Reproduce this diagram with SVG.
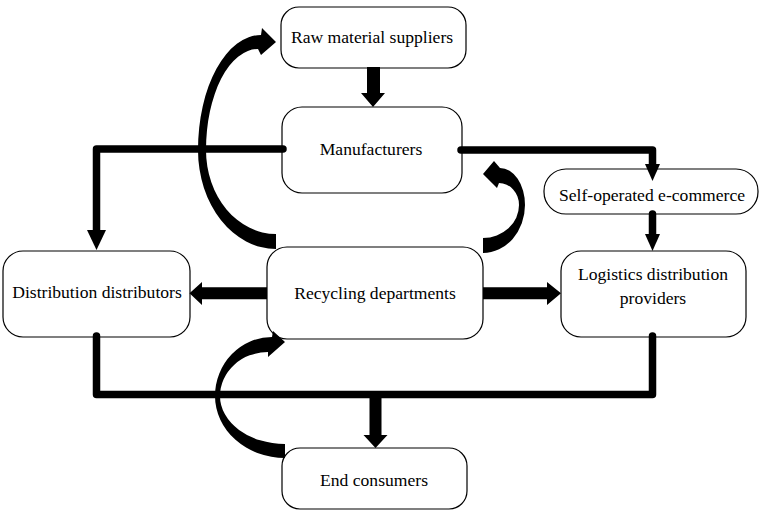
<svg xmlns="http://www.w3.org/2000/svg" width="766" height="516" viewBox="0 0 766 516">
<style>
.box{fill:#fff;stroke:#000;stroke-width:1.2}
.lbl{font-family:"Liberation Serif","Times New Roman",serif;font-size:17.6px;fill:#000;text-anchor:middle}
.ln{fill:none;stroke:#000;stroke-width:7.5;stroke-linecap:round;stroke-linejoin:round}
.ar{fill:#000;stroke:none}
</style>
<rect width="766" height="516" fill="#fff"/>
<g id="raw-material-suppliers">
<rect class="box" x="281" y="7" width="185" height="61" rx="18"/>
<text class="lbl" x="372" y="43">Raw material suppliers</text>
</g>
<g id="manufacturers">
<rect class="box" x="282" y="107" width="180" height="86" rx="20"/>
<text class="lbl" x="371" y="155">Manufacturers</text>
</g>
<g id="self-operated-ecommerce">
<rect class="box" x="544" y="169" width="214" height="45" rx="22"/>
<text class="lbl" x="652" y="201">Self-operated e-commerce</text>
</g>
<g id="distribution-distributors">
<rect class="box" x="3" y="251" width="187" height="86" rx="20"/>
<text class="lbl" x="97" y="298">Distribution distributors</text>
</g>
<g id="recycling-departments">
<rect class="box" x="267" y="247" width="216" height="92" rx="20"/>
<text class="lbl" x="375" y="299">Recycling departments</text>
</g>
<g id="logistics-distribution-providers">
<rect class="box" x="561" y="251" width="185" height="86" rx="20"/>
<text class="lbl" x="653" y="280">Logistics distribution</text>
<text class="lbl" x="653" y="304">providers</text>
</g>
<g id="end-consumers">
<rect class="box" x="282" y="448" width="185" height="61" rx="18"/>
<text class="lbl" x="374" y="486">End consumers</text>
</g>
<g id="connectors">
<path class="ar" d="M367 67 H380 V93 H385 L373 107 L361 93 H367 Z"/>
<path class="ln" d="M283 149 H96.5 V232"/>
<polygon class="ar" points="87,230 106,230 96.5,250"/>
<path class="ln" d="M461 150 H652.5 V166"/>
<polygon class="ar" points="645,164 660,164 652.5,181"/>
<path class="ln" d="M652.5 214 V236"/>
<polygon class="ar" points="645,234 660,234 652.5,251"/>
<path class="ln" d="M96.5 336 V394.5 H652.5 V336"/>
<path class="ar" d="M369.5 394 H381.5 V435 H387.5 L375.5 448 L363.5 435 H369.5 Z"/>
<path class="ar" d="M267 287.3 V299.3 H202 V305 L189.5 293.3 L202 282 V287.3 Z"/>
<path class="ar" d="M483 287.3 H547 V282 L561 293.3 L547 305 V299.3 H483 Z"/>
<path class="ar" d="M276 249 A78 99 0 0 1 198 150 A63 115 0 0 1 261 35 L262 28 L276 42 L261 55 L258 49 A52 101 0 0 0 206 150 A70 84 0 0 0 276 234 Z"/>
<path class="ar" d="M483 253 A42 48 0 0 0 525 205 A25 37 0 0 0 500 168 L494 161 L483 174 L497 188 L499 183 A20 22 0 0 1 519 205 A36 33 0 0 1 483 238 Z"/>
<path class="ar" d="M285 458 A70 62 0 0 1 215 396 A57 59 0 0 1 272 337 L273 331 L285 342 L268 357 L268 352 A48 44 0 0 0 220 396 A65 48 0 0 0 285 444 Z"/>
</g>
</svg>
